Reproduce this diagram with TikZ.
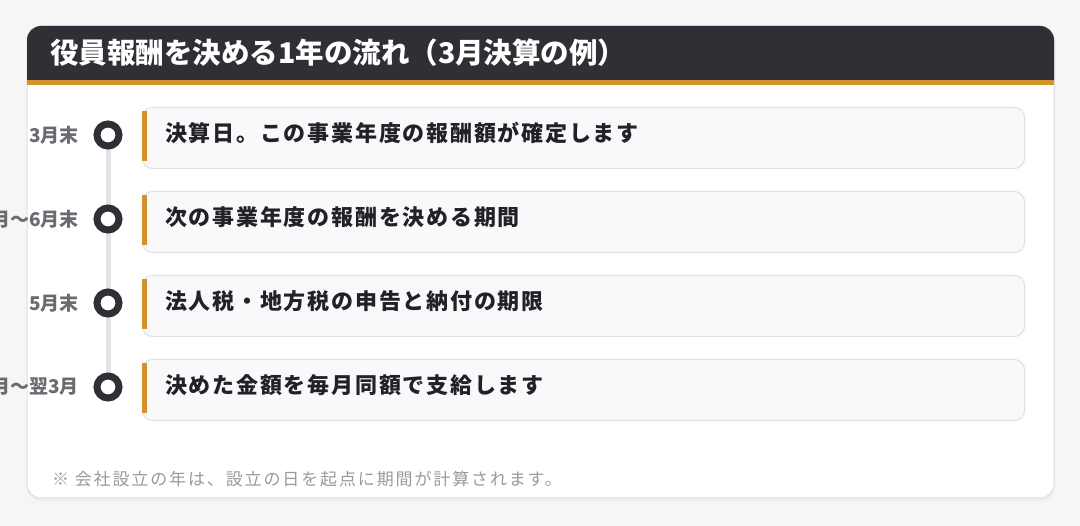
\documentclass[tikz,border=0pt]{standalone}
\usepackage{fontspec}
\setmainfont{Noto Sans CJK JP}
\newfontfamily\jpspaced[LetterSpace=8]{Noto Sans CJK JP}
\newfontfamily\jpnote[LetterSpace=11]{Noto Sans CJK JP}

\definecolor{pagebg}{HTML}{F6F6F7}
\definecolor{headdark}{HTML}{2F3035}
\definecolor{accent}{HTML}{D3922B}
\definecolor{cardline}{HTML}{E0E0E4}
\definecolor{cardfill}{HTML}{F9F9FB}
\definecolor{railgray}{HTML}{E2E2E7}
\definecolor{labelgray}{HTML}{6A6A70}
\definecolor{notegray}{HTML}{9A9A9E}
\definecolor{textdark}{HTML}{222226}

\begin{document}
\begin{tikzpicture}[x=1pt,y=-1pt,
  stepcard/.style={draw=cardline,fill=cardfill,line width=1pt,rounded corners=10pt,
    minimum width=882pt,minimum height=61pt,inner sep=0pt,anchor=north west},
  stepdot/.style={circle,draw=headdark,line width=7pt,fill=white,minimum size=22pt,inner sep=0pt},
  steptext/.style={anchor=west,inner sep=0pt,text=textdark,font=\jpspaced\bfseries\fontsize{22}{26}\selectfont},
  steplabel/.style={anchor=east,inner sep=0pt,text=labelgray,font=\bfseries\fontsize{19}{23}\selectfont}]
  \fill[pagebg] (0,0) rectangle (1080,526);
  \useasboundingbox (0,0) rectangle (1080,526);

  \fill[black!7,rounded corners=14pt] (27,28) rectangle (1055,501);
  \draw[cardline,fill=white,line width=1pt,rounded corners=14pt] (27,26) rectangle (1054,498);
  \fill[headdark] (27,80) [rounded corners=14pt] -- (27,26) -- (1054,26) [sharp corners] -- (1054,80) -- cycle;
  \fill[accent] (27,80) rectangle (1054,85);
  \node[anchor=west,inner sep=0pt,text=white,font=\bfseries\fontsize{28.5}{32}\selectfont] (title) at (50,53)
    {役員報酬を決める1年の流れ（3月決算の例）};

  \coordinate (railtop) at (108,135);
  \coordinate (railend) at (108,387);
  \draw[railgray,line width=5pt] (railtop) -- (railend);

  \foreach \i/\y/\when/\what in {1/107/3月末/決算日。この事業年度の報酬額が確定します,
      2/191/4月〜6月末/次の事業年度の報酬を決める期間,
      3/275/5月末/法人税・地方税の申告と納付の期限,
      4/359/6月〜翌3月/決めた金額を毎月同額で支給します} {
    \node[stepcard] (card\i) at (142,\y) {};
    \fill[accent] (142,\y+4) rectangle (147,\y+54);
    \node[steptext] (text\i) at (165,\y+26) {\what};
    \node[stepdot] (dot\i) at (108,\y+28) {};
    \node[steplabel] (when\i) at (79,\y+28) {\when};
  }

  \node[anchor=west,inner sep=0pt,text=notegray,font=\jpnote\fontsize{17}{20}\selectfont] (note) at (52,479)
    {※ 会社設立の年は、設立の日を起点に期間が計算されます。};
\end{tikzpicture}
\end{document}
